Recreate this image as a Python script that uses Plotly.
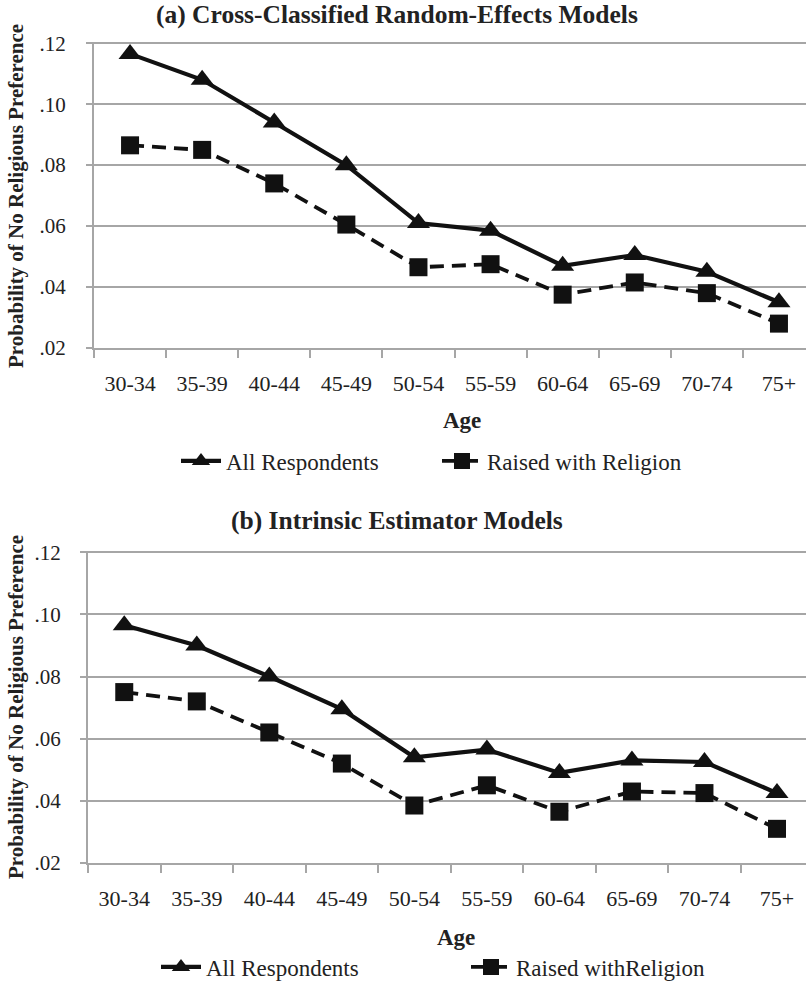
import plotly.graph_objects as go

ages = ["30-34", "35-39", "40-44", "45-49", "50-54", "55-59", "60-64", "65-69", "70-74", "75+"]

a_all = [0.1165, 0.108, 0.094, 0.080, 0.061, 0.0585, 0.047, 0.0505, 0.045, 0.035]
a_raised = [0.0865, 0.085, 0.074, 0.0605, 0.0465, 0.0475, 0.0375, 0.0415, 0.038, 0.028]

b_all = [0.0965, 0.090, 0.080, 0.0695, 0.054, 0.0565, 0.049, 0.053, 0.0525, 0.0425]
b_raised = [0.075, 0.072, 0.062, 0.052, 0.0385, 0.045, 0.0365, 0.043, 0.0425, 0.031]

y_tickvals = [0.02, 0.04, 0.06, 0.08, 0.10, 0.12]
y_ticktext = [".02", ".04", ".06", ".08", ".10", ".12"]

titles = ["(a) Cross-Classified Random-Effects Models", "(b) Intrinsic Estimator Models"]
names_a = ["All Respondents", "Raised with Religion"]
names_b = ["All Respondents", "Raised withReligion"]

SERIF = "Liberation Serif, Times New Roman, serif"
GRID = "#a6a6a6"
TXT = "#222222"

W, H = 806, 982


def py(px):
    return (H - px) / H


def px_(px):
    return px / W


fig = go.Figure()

panels = [
    (a_all, a_raised, names_a, "x", "y", "legend"),
    (b_all, b_raised, names_b, "x2", "y2", "legend2"),
]
for all_v, raised_v, names, xa, ya, lg in panels:
    fig.add_trace(go.Scatter(
        x=ages, y=all_v, name=names[0], mode="lines+markers",
        line=dict(color="#111111", width=4.2),
        marker=dict(symbol="triangle-up", size=20, color="#111111"),
        xaxis=xa, yaxis=ya, legend=lg, cliponaxis=False,
    ))
    fig.add_trace(go.Scatter(
        x=ages, y=raised_v, name=names[1], mode="lines+markers",
        line=dict(color="#111111", width=3.8, dash="14px,8px"),
        marker=dict(symbol="square", size=18, color="#111111"),
        xaxis=xa, yaxis=ya, legend=lg, cliponaxis=False,
    ))


def xax(anchor, left, rmax):
    return dict(
        type="category", categoryorder="array", categoryarray=ages,
        range=[-0.5, rmax], showgrid=False, showline=True, linecolor=GRID, linewidth=2,
        ticks="outside", tickson="boundaries", ticklen=8, tickwidth=2, tickcolor=GRID,
        tickfont=dict(family=SERIF, size=22, color=TXT), ticklabelstandoff=15,
        anchor=anchor, domain=[px_(left), 1.0], automargin=False, fixedrange=True,
    )


def yax(anchor, top, bottom, standoff):
    return dict(
        range=[0.02, 0.1204], tickvals=y_tickvals, ticktext=y_ticktext,
        showgrid=True, gridcolor=GRID, gridwidth=2, showline=True, linecolor=GRID, linewidth=2,
        ticks="outside", ticklen=6, tickwidth=2, tickcolor=GRID, zeroline=False,
        tickfont=dict(family=SERIF, size=21, color=TXT), ticklabelstandoff=standoff,
        anchor=anchor, domain=[py(bottom), py(top)], automargin=False, fixedrange=True,
    )


fig.update_layout(
    width=W, height=H,
    margin=dict(l=0, r=0, t=0, b=0, autoexpand=False),
    paper_bgcolor="white", plot_bgcolor="white",
    showlegend=True,
    xaxis=xax("y", 94, 9.375),
    yaxis=yax("x", 42, 348, 16),
    xaxis2=xax("y2", 88, 9.4),
    yaxis2=yax("x2", 551, 863, 15),
    legend=dict(orientation="h", x=px_(176), y=py(461), xanchor="left", yanchor="middle",
                entrywidth=206, entrywidthmode="pixels",
                font=dict(family=SERIF, size=23, color=TXT), itemwidth=40,
                bgcolor="rgba(0,0,0,0)"),
    legend2=dict(orientation="h", x=px_(156), y=py(967), xanchor="left", yanchor="middle",
                 entrywidth=255, entrywidthmode="pixels",
                 font=dict(family=SERIF, size=23, color=TXT), itemwidth=40,
                 bgcolor="rgba(0,0,0,0)"),
)


def ann(text, x, y, size, angle=0):
    return dict(text=text, x=px_(x), y=py(y), xref="paper", yref="paper",
                xanchor="center", yanchor="middle", textangle=angle, showarrow=False,
                font=dict(family=SERIF, size=size, color=TXT))


annotations = [
    ann("<b>" + titles[0] + "</b>", 397, 15, 25.5),
    ann("<b>" + titles[1] + "</b>", 397, 520, 25.5),
    ann("<b>Age</b>", 462, 420, 23),
    ann("<b>Age</b>", 456, 937, 23),
    ann("<b>Probability of No Religious Preference</b>", 16, 196, 21, -90),
    ann("<b>Probability of No Religious Preference</b>", 16, 707, 21, -90),
]
fig.update_layout(annotations=annotations)

fig.write_html(
    "out.html",
    config={"displayModeBar": False},
    post_script="document.body.style.margin='0';document.body.style.overflow='hidden';",
)
